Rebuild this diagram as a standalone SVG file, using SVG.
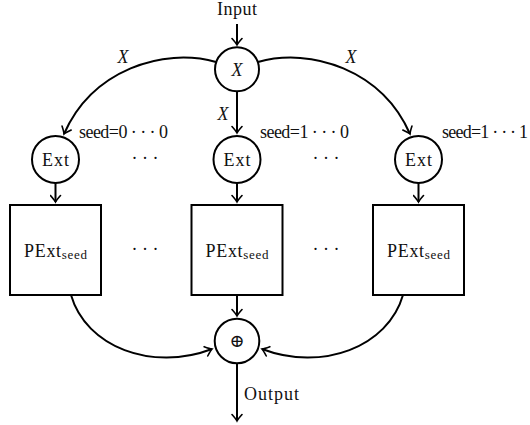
<svg xmlns="http://www.w3.org/2000/svg" width="530" height="425" viewBox="0 0 530 425">
<defs>
<marker id="ar" viewBox="-8 -6 10 12" markerWidth="10" markerHeight="12" refX="0" refY="0" orient="auto" markerUnits="userSpaceOnUse">
<path d="M-6.5,-5 Q-2,-1 0,0 Q-2,1 -6.5,5" fill="none" stroke="#000" stroke-width="1.6" stroke-linecap="round"/>
</marker>
<style>
.n{fill:#fff;stroke:#000;stroke-width:2}
.c{fill:none;stroke:#000;stroke-width:2;marker-end:url(#ar)}
text{font-family:"Liberation Serif","DejaVu Serif",serif;fill:#111;text-anchor:middle;font-size:18px}
.s{text-anchor:start}
.i{font-style:italic}
</style>
</defs>
<rect width="530" height="425" fill="#fff"/>
<g id="connectors">
<path class="c" d="M237,24 V45"/>
<path class="c" d="M216,62 C163,47 92,70 64,134"/>
<path class="c" d="M258,62 C311,47 382,70 410,134"/>
<path class="c" d="M237,91 V133"/>
<path class="c" d="M55.5,183 V202"/>
<path class="c" d="M237,183 V202"/>
<path class="c" d="M418.5,183 V202"/>
<path class="c" d="M237,295 V316"/>
<path class="c" d="M71,295 C86,347 152,372 212,349"/>
<path class="c" d="M403,295 C388,347 322,372 262,349"/>
<path class="c" d="M237,363 V421"/>
</g>
<g id="input"><text x="237" y="15" textLength="40" lengthAdjust="spacing">Input</text></g>
<g id="x"><circle class="n" cx="237" cy="69.3" r="22"/><text class="i" x="237" y="76">X</text></g>
<g id="labels">
<text class="i" x="123" y="62.5">X</text>
<text class="i" x="351" y="62.5">X</text>
<text class="i" x="223" y="120">X</text>
<text class="s" x="79" y="138" textLength="89" lengthAdjust="spacing">seed=0 · · · 0</text>
<text class="s" x="260" y="138" textLength="89" lengthAdjust="spacing">seed=1 · · · 0</text>
<text class="s" x="442" y="138" textLength="86" lengthAdjust="spacing">seed=1 · · · 1</text>
<text x="145" y="164">· · ·</text>
<text x="326" y="164">· · ·</text>
<text x="145" y="255">· · ·</text>
<text x="326" y="255">· · ·</text>
<text class="s" x="244" y="400" textLength="55" lengthAdjust="spacing">Output</text>
</g>
<g id="ext1"><circle class="n" cx="55.5" cy="159.4" r="23.5"/><text x="55.5" y="165.5" textLength="27" lengthAdjust="spacing">Ext</text></g>
<g id="ext2"><circle class="n" cx="237" cy="159.4" r="23.5"/><text x="237" y="165.5" textLength="27" lengthAdjust="spacing">Ext</text></g>
<g id="ext3"><circle class="n" cx="418.5" cy="159.4" r="23.5"/><text x="418.5" y="165.5" textLength="27" lengthAdjust="spacing">Ext</text></g>
<g id="pext1"><rect class="n" x="10" y="205" width="91" height="90"/><text class="s" x="24" y="256.5" textLength="63" lengthAdjust="spacing">PExt<tspan font-size="13" dy="2.5">seed</tspan></text></g>
<g id="pext2"><rect class="n" x="191.5" y="205" width="91" height="90"/><text class="s" x="205.5" y="256.5" textLength="63" lengthAdjust="spacing">PExt<tspan font-size="13" dy="2.5">seed</tspan></text></g>
<g id="pext3"><rect class="n" x="373" y="205" width="91" height="90"/><text class="s" x="387" y="256.5" textLength="63" lengthAdjust="spacing">PExt<tspan font-size="13" dy="2.5">seed</tspan></text></g>
<g id="xor"><circle class="n" cx="237" cy="341" r="22.3"/><text x="237" y="347" font-size="15" fill="#777">⊕</text></g>
</svg>
